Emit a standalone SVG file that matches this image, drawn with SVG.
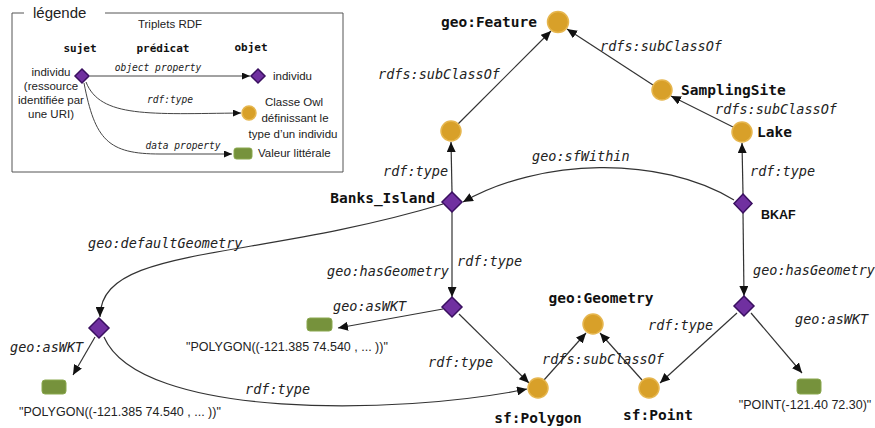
<svg xmlns="http://www.w3.org/2000/svg" width="875" height="428" viewBox="0 0 875 428">
<style>
.bg{fill:#ffffff}
.e{fill:none;stroke:#333;stroke-width:1.2}
.el{fill:none;stroke:#444;stroke-width:1}
.ind{fill:#7030a0;stroke:#3a1060;stroke-width:1.5}
.cls{fill:#d8a029;stroke:#e6b64e;stroke-width:1.5}
.lit{fill:#76923c;stroke:#8aa84e;stroke-width:1}
.lb{font-family:"DejaVu Sans Mono","Liberation Mono",monospace;font-style:italic;font-size:13.5px;fill:#222}
.nm{font-family:"DejaVu Sans Mono","Liberation Mono",monospace;font-weight:bold;font-size:14.5px;fill:#111}
.sn{font-family:"Liberation Sans",Arial,sans-serif;font-size:12.5px;fill:#222}
.lg{font-family:"Liberation Sans",Arial,sans-serif;font-size:11.5px;fill:#222}
.lgh{font-family:"DejaVu Sans Mono","Liberation Mono",monospace;font-weight:bold;font-size:11px;fill:#111}
.lgi{font-family:"DejaVu Sans Mono","Liberation Mono",monospace;font-style:italic;font-size:9.6px;fill:#222}
.box{fill:none;stroke:#555;stroke-width:1}
</style>
<defs>
<marker id="a" markerUnits="userSpaceOnUse" markerWidth="10" markerHeight="9" refX="10" refY="4.5" orient="auto"><path d="M0,0 L10,4.5 L0,9 z" fill="#111"/></marker>
<marker id="as" markerUnits="userSpaceOnUse" markerWidth="8" markerHeight="7" refX="8" refY="3.5" orient="auto"><path d="M0,0 L8,3.5 L0,7 z" fill="#111"/></marker>
</defs>
<rect class="bg" x="0" y="0" width="875" height="428"/>

<g id="legend">
<path class="box" d="M24,13 L12,13 L12,172 L343,172 L343,13 L105,13"/>
<text x="33" y="18" font-family="Liberation Sans,Arial,sans-serif" font-size="15px" fill="#222">légende</text>
<text class="lg" x="170" y="28" text-anchor="middle">Triplets RDF</text>
<text class="lgh" x="80" y="52" text-anchor="middle">sujet</text>
<text class="lgh" x="163" y="52" text-anchor="middle">prédicat</text>
<text class="lgh" x="251" y="51" text-anchor="middle">objet</text>
<text class="lg" x="51" y="76" text-anchor="middle">individu</text>
<text class="lg" x="51" y="90" text-anchor="middle">(ressource</text>
<text class="lg" x="51" y="104" text-anchor="middle">identifiée par</text>
<text class="lg" x="51" y="118" text-anchor="middle">une URI)</text>
<path class="el" d="M90,76 L250,76" marker-end="url(#as)"/>
<path class="el" d="M86,82 C100,118 150,114 241,113" marker-end="url(#as)"/>
<path class="el" d="M84,83 C95,140 108,154 160,154 L232,154" marker-end="url(#as)"/>
<text class="lgi" x="158" y="71" text-anchor="middle">object property</text>
<text class="lgi" x="170" y="103" text-anchor="middle">rdf:type</text>
<text class="lgi" x="183" y="149" text-anchor="middle">data property</text>
<path class="ind" d="M82,69 L89,76 L82,83 L75,76 z"/>
<path class="ind" d="M258,69 L265,76 L258,83 L251,76 z"/>
<circle class="cls" cx="249" cy="113" r="7"/>
<rect class="lit" x="234" y="148" width="18" height="11" rx="2.5"/>
<text class="lg" x="273" y="80">individu</text>
<text class="lg" x="294" y="106" text-anchor="middle">Classe Owl</text>
<text class="lg" x="295" y="122" text-anchor="middle">définissant le</text>
<text class="lg" x="293" y="138" text-anchor="middle">type d’un individu</text>
<text class="lg" x="258" y="157">Valeur littérale</text>
</g>

<g id="connectors">
<path class="e" d="M458,124 L551,31" marker-end="url(#a)"/>
<path class="e" d="M653,85 L567,29" marker-end="url(#a)"/>
<path class="e" d="M733,127 L671,96" marker-end="url(#a)"/>
<path class="e" d="M452,192 L451,142" marker-end="url(#a)"/>
<path class="e" d="M743,194 L742,143" marker-end="url(#a)"/>
<path class="e" d="M734,200 C660,155 540,158 463,202" marker-end="url(#a)"/>
<path class="e" d="M443,204 C250,262 100,245 100,317" marker-end="url(#a)"/>
<path class="e" d="M452,212 L452,297" marker-end="url(#a)"/>
<path class="e" d="M443,309 L338,328" marker-end="url(#a)"/>
<path class="e" d="M459,314 L529,383" marker-end="url(#a)"/>
<path class="e" d="M104,337 C140,420 400,415 527,389" marker-end="url(#a)"/>
<path class="e" d="M95,337 L73,375" marker-end="url(#a)"/>
<path class="e" d="M544,380 L586,333" marker-end="url(#a)"/>
<path class="e" d="M642,380 L600,333" marker-end="url(#a)"/>
<path class="e" d="M743,213 L744,296" marker-end="url(#a)"/>
<path class="e" d="M737,313 L660,383" marker-end="url(#a)"/>
<path class="e" d="M751,313 L802,373" marker-end="url(#a)"/>
</g>

<g id="edge-labels">
<text class="lb" x="378" y="79">rdfs:subClassOf</text>
<text class="lb" x="600" y="51">rdfs:subClassOf</text>
<text class="lb" x="715" y="114">rdfs:subClassOf</text>
<text class="lb" x="750" y="176">rdf:type</text>
<text class="lb" x="532" y="161">geo:sfWithin</text>
<text class="lb" x="383" y="176">rdf:type</text>
<text class="lb" x="88" y="248">geo:defaultGeometry</text>
<text class="lb" x="327" y="276">geo:hasGeometry</text>
<text class="lb" x="457" y="266">rdf:type</text>
<text class="lb" x="333" y="311">geo:asWKT</text>
<text class="lb" x="10" y="352">geo:asWKT</text>
<text class="lb" x="245" y="394">rdf:type</text>
<text class="lb" x="428" y="367">rdf:type</text>
<text class="lb" x="542" y="364">rdfs:subClassOf</text>
<text class="lb" x="753" y="275">geo:hasGeometry</text>
<text class="lb" x="648" y="330">rdf:type</text>
<text class="lb" x="795" y="324">geo:asWKT</text>
</g>

<g id="geoFeature"><circle class="cls" cx="558" cy="22" r="10.5"/><text class="nm" x="537" y="27" text-anchor="end">geo:Feature</text></g>
<g id="classBanks"><circle class="cls" cx="451" cy="131" r="10"/></g>
<g id="SamplingSite"><circle class="cls" cx="662" cy="90" r="10"/><text class="nm" x="681" y="95">SamplingSite</text></g>
<g id="Lake"><circle class="cls" cx="742" cy="132" r="10"/><text class="nm" x="757" y="137">Lake</text></g>
<g id="Banks_Island"><path class="ind" d="M452,192 L462,202 L452,212 L442,202 z"/><text class="nm" x="435" y="203" text-anchor="end">Banks_Island</text></g>
<g id="BKAF"><path class="ind" d="M743,194 L752,203.5 L743,213 L734,203.5 z"/><text x="761" y="219" font-family="Liberation Sans,Arial,sans-serif" font-weight="bold" font-size="12.5px" fill="#111">BKAF</text></g>
<g id="geomDefault"><path class="ind" d="M99,318 L109,328 L99,338 L89,328 z"/></g>
<g id="geomBanks"><path class="ind" d="M452,297 L462,307 L452,317 L442,307 z"/></g>
<g id="geomBKAF"><path class="ind" d="M744,296 L754,306 L744,316 L734,306 z"/></g>
<g id="geoGeometry"><circle class="cls" cx="593" cy="324" r="10"/><text class="nm" x="601" y="303" text-anchor="middle">geo:Geometry</text></g>
<g id="sfPolygon"><circle class="cls" cx="538" cy="388" r="10"/><text class="nm" x="538" y="423" text-anchor="middle">sf:Polygon</text></g>
<g id="sfPoint"><circle class="cls" cx="649" cy="388" r="10"/><text class="nm" x="658" y="420" text-anchor="middle">sf:Point</text></g>
<g id="litLeft"><rect class="lit" x="42" y="380" width="24" height="14" rx="3"/><text class="sn" x="120" y="416" text-anchor="middle">"POLYGON((-121.385 74.540 , ... ))"</text></g>
<g id="litMid"><rect class="lit" x="307" y="318" width="25" height="13" rx="3"/><text class="sn" x="287" y="351" text-anchor="middle">"POLYGON((-121.385 74.540 , ... ))"</text></g>
<g id="litRight"><rect class="lit" x="797" y="379" width="24" height="15" rx="3"/><text class="sn" x="805" y="409" text-anchor="middle">"POINT(-121.40 72.30)"</text></g>
</svg>
